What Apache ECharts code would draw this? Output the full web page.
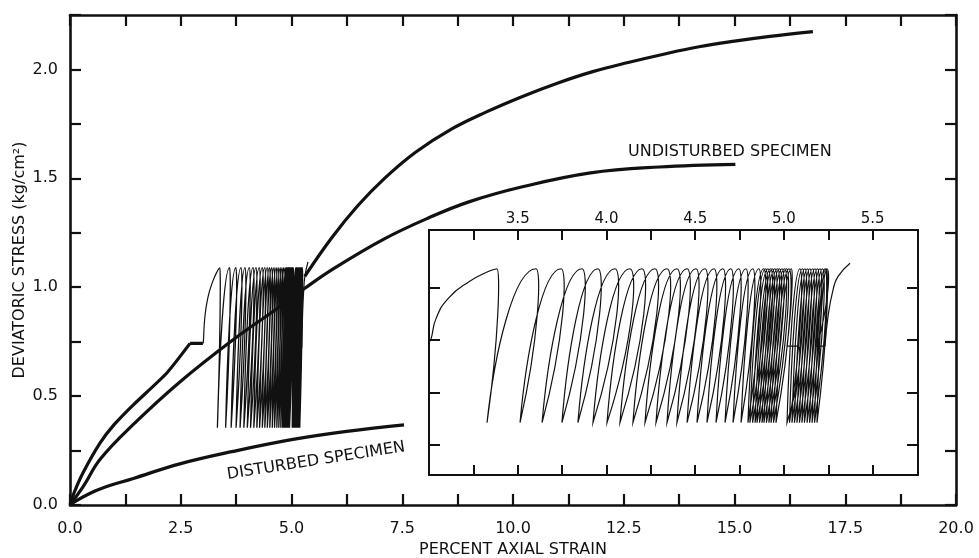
<!DOCTYPE html>
<html>
<head>
    <meta charset="utf-8">
    <script src="https://cdn.jsdelivr.net/npm/echarts@6/dist/echarts.min.js"></script>
</head>
<style type="text/css">
    body { margin: 0; background: #fff; }
    #chart { width: 979px; height: 558px; }
</style>
<body>
    <div id="chart"></div>
</body>
</html>

<script type="text/javascript">
    // stress levels of the cyclic part (kg/cm2)
    let peakStress = 1.09
    let valleyStress = 0.355

    // cyclic specimen: first loading and the hold
    let firstLoad = [[0, 0], [0.1, 0.06], [0.3, 0.15], [0.68, 0.285], [1.0, 0.37], [1.43, 0.46], [2.18, 0.605], [2.71, 0.742]]
    let firstHold = [[2.71, 0.742], [3.0, 0.742]]
    // thin reload to the first peak
    let riseToFirstPeak = [[3.0, 0.742], [3.01, 0.75], [3.04, 0.853], [3.11, 0.95], [3.225, 1.028], [3.34, 1.079], [3.383, 1.09]]
    // strain at each peak and at the valley after it (loops, then first dense block)
    let peaksA = [3.383, 3.603, 3.744, 3.862, 3.952, 4.048, 4.132, 4.200, 4.273, 4.341, 4.397, 4.454, 4.504,
        4.555, 4.606, 4.656, 4.701, 4.746, 4.786, 4.825, 4.859,
        4.885, 4.896, 4.910, 4.924, 4.935, 4.949, 4.963, 4.975, 4.989, 5.003, 5.014, 5.028, 5.042]
    let valleysA = [3.327, 3.513, 3.637, 3.749, 3.839, 3.924, 4.003, 4.076, 4.149, 4.217, 4.279, 4.341, 4.397,
        4.454, 4.510, 4.566, 4.617, 4.668, 4.713, 4.758, 4.797,
        4.808, 4.823, 4.837, 4.848, 4.862, 4.876, 4.887, 4.901, 4.915, 4.927, 4.941, 4.955]
    let hold1 = [[5.017, 0.72], [5.079, 0.72]]
    // second dense block: valley then peak
    let valleysB = [5.017, 5.031, 5.045, 5.059, 5.073, 5.087, 5.101, 5.115, 5.130, 5.144, 5.158, 5.172, 5.186]
    let peaksB = [5.090, 5.104, 5.118, 5.132, 5.146, 5.161, 5.175, 5.189, 5.203, 5.217, 5.231, 5.237, 5.242]
    let hold2 = [[5.186, 0.72], [5.231, 0.72]]
    let finalRise = [[5.231, 0.72], [5.248, 0.861], [5.276, 0.988], [5.304, 1.052], [5.372, 1.116]]
    // monotonic loading after the cycles
    let afterCycles = [[5.3, 1.05], [5.9, 1.225], [6.5, 1.375], [7.1, 1.5], [7.8, 1.62], [8.6, 1.725], [9.4, 1.805],
        [10.2, 1.875], [11.0, 1.937], [11.8, 1.99], [12.6, 2.032], [13.4, 2.07], [14.2, 2.104], [15.0, 2.13],
        [15.8, 2.152], [16.77, 2.174]]

    let undisturbed = [[0, 0], [0.3, 0.085], [0.68, 0.21], [1.43, 0.37], [2.48, 0.565], [3.69, 0.76], [4.59, 0.89],
        [5.3, 0.995], [5.907, 1.08], [7.075, 1.22], [8.09, 1.318], [9.02, 1.393], [10.19, 1.46],
        [11.75, 1.525], [13.3, 1.552], [15.02, 1.564]]
    let disturbed = [[0, 0], [0.15, 0.02], [0.4, 0.048], [0.68, 0.074], [1.43, 0.122], [2.5, 0.19], [3.68, 0.246],
        [5.0, 0.3], [6.2, 0.337], [7.54, 0.368]]

    let xLabelsMain = [0, 2.5, 5, 7.5, 10, 12.5, 15, 17.5, 20]
    let yLabelsMain = [0, 0.5, 1.0, 1.5, 2.0]
    let insetTicksX = [3.25, 3.5, 3.75, 4.0, 4.25, 4.5, 4.75, 5.0, 5.25, 5.5]
    let insetLabelsX = [3.5, 4.0, 4.5, 5.0, 5.5]
    let insetTicksY = [0.25, 0.5, 0.75, 1.0]

    // corner points of the cyclic record, in order
    function loopVertices() {
        let v = [[peaksA[0], peakStress]]
        valleysA.forEach((x, i) => {
            v.push([x, valleyStress])
            v.push([peaksA[i + 1], peakStress])
        })
        v = v.concat(hold1)
        valleysB.forEach((x, i) => {
            v.push([x, valleyStress])
            v.push([peaksB[i], peakStress])
        })
        return v.concat(hold2)
    }
    let vertices = loopVertices()

    // reload: steep start, flat top; unload: flat top, bends back at the bottom
    function loopPath(api) {
        let pts = vertices.map(d => api.coord(d))
        let d = 'M' + pts[0][0] + ' ' + pts[0][1]
        for (let i = 1; i < pts.length; i++) {
            let a = pts[i - 1], b = pts[i]
            let dy = b[1] - a[1]
            if (Math.abs(dy) < 0.5) {
                d += ' L' + b[0] + ' ' + b[1]
            } else if (dy < 0) {
                let dx = b[0] - a[0]
                d += ' C' + (a[0] + 0.15 * dx) + ' ' + (a[1] + 0.45 * dy) + ' ' +
                    (b[0] - 0.45 * dx) + ' ' + b[1] + ' ' + b[0] + ' ' + b[1]
            } else {
                let dx = Math.abs(a[0] - b[0])
                d += ' C' + (a[0] + 0.35 * dx) + ' ' + a[1] + ' ' +
                    (a[0] + 0.2 * dx) + ' ' + (b[1] - 0.55 * dy) + ' ' + b[0] + ' ' + b[1]
            }
        }
        return d
    }

    let font = 'DejaVu Sans'
    let black = '#111'

    function axisBase(extra) {
        return Object.assign({
            type: 'value',
            splitLine: { show: false },
            axisLine: { show: true, onZero: false, lineStyle: { color: black, width: 2.6 } },
            axisTick: { show: true, inside: true, length: 11, lineStyle: { color: black, width: 2.2 } },
            axisLabel: { show: false }
        }, extra)
    }

    function insetAxis(extra) {
        return axisBase(Object.assign({
            gridIndex: 1,
            axisLine: { show: true, onZero: false, lineStyle: { color: black, width: 2 } }
        }, extra))
    }

    function line(name, xi, data, width, smooth) {
        return {
            name: name, type: 'line', xAxisIndex: xi, yAxisIndex: xi, data: data, smooth: smooth,
            showSymbol: false, silent: true, lineStyle: { color: black, width: width }
        }
    }

    function loops(name, xi, width) {
        return {
            name: name, type: 'custom', xAxisIndex: xi, yAxisIndex: xi, clip: true, silent: true,
            data: [[4, 0.7]],
            renderItem: (params, api) => ({
                type: 'path',
                shape: { pathData: loopPath(api) },
                style: { fill: 'none', stroke: black, lineWidth: width }
            })
        }
    }

    let myChart = echarts.init(document.getElementById('chart'))

    let option = {
        animation: false,
        backgroundColor: '#fff',
        textStyle: { fontFamily: font },
        grid: [
            { left: 70, right: 23, top: 15, bottom: 53, outerBoundsMode: 'none', containLabel: false },
            { left: 429, top: 230, width: 489, height: 245, outerBoundsMode: 'none', containLabel: false }
        ],
        xAxis: [
            axisBase({
                gridIndex: 0, min: 0, max: 20, interval: 1.25,
                name: 'PERCENT AXIAL STRAIN', nameLocation: 'middle', nameGap: 37, nameMoveOverlap: false,
                nameTextStyle: { fontSize: 16, color: black, fontFamily: font },
                axisLabel: {
                    show: true, margin: 16, fontSize: 16, color: black, fontFamily: font,
                    customValues: xLabelsMain, formatter: v => v.toFixed(1)
                }
            }),
            axisBase({ gridIndex: 0, min: 0, max: 20, interval: 1.25, position: 'top' }),
            insetAxis({
                min: 3.0, max: 5.755, position: 'bottom',
                axisTick: { show: true, inside: true, length: 10, customValues: insetTicksX, lineStyle: { color: black, width: 2 } }
            }),
            insetAxis({
                min: 3.0, max: 5.755, position: 'top',
                axisTick: { show: true, inside: true, length: 10, customValues: insetTicksX, lineStyle: { color: black, width: 2 } },
                axisLabel: {
                    show: true, margin: 3, fontSize: 15, color: black, fontFamily: font,
                    customValues: insetLabelsX, formatter: v => v.toFixed(1)
                }
            })
        ],
        yAxis: [
            axisBase({
                gridIndex: 0, min: 0, max: 2.25, interval: 0.25,
                name: 'DEVIATORIC STRESS (kg/cm²)', nameLocation: 'middle', nameGap: 42, nameMoveOverlap: false,
                nameTextStyle: { fontSize: 16, color: black, fontFamily: font },
                axisLabel: {
                    show: true, margin: 12, fontSize: 16, color: black, fontFamily: font,
                    customValues: yLabelsMain, formatter: v => v.toFixed(1)
                }
            }),
            axisBase({ gridIndex: 0, min: 0, max: 2.25, interval: 0.25, position: 'right' }),
            insetAxis({
                min: 0.105, max: 1.275, position: 'left',
                axisTick: { show: true, inside: true, length: 11, customValues: insetTicksY, lineStyle: { color: black, width: 2 } }
            }),
            insetAxis({
                min: 0.105, max: 1.275, position: 'right',
                axisTick: { show: true, inside: true, length: 11, customValues: insetTicksY, lineStyle: { color: black, width: 2 } }
            })
        ],
        series: [
            line('first load', 0, firstLoad, 3.2, 0.2),
            line('first hold', 0, firstHold, 3.2, false),
            line('rise', 0, riseToFirstPeak, 1.2, 0.5),
            loops('loops', 0, 1.3),
            line('final rise', 0, finalRise, 1.2, 0.5),
            line('after cycles', 0, afterCycles, 3.2, 0.4),
            line('undisturbed', 0, undisturbed, 3.2, 0.4),
            line('disturbed', 0, disturbed, 3.2, 0.4),
            line('rise inset', 2, riseToFirstPeak, 1.2, 0.5),
            loops('loops inset', 2, 1.2),
            line('final rise inset', 2, finalRise, 1.2, 0.5)
        ],
        graphic: [
            {
                type: 'text', x: 628, y: 152,
                style: { text: 'UNDISTURBED SPECIMEN', font: '16px "DejaVu Sans"', fill: black, verticalAlign: 'middle' }
            },
            {
                type: 'text', x: 316, y: 461, rotation: 0.155,
                style: { text: 'DISTURBED SPECIMEN', font: '16px "DejaVu Sans"', fill: black, align: 'center', verticalAlign: 'middle' }
            }
        ]
    }

    myChart.setOption(option)
</script>
